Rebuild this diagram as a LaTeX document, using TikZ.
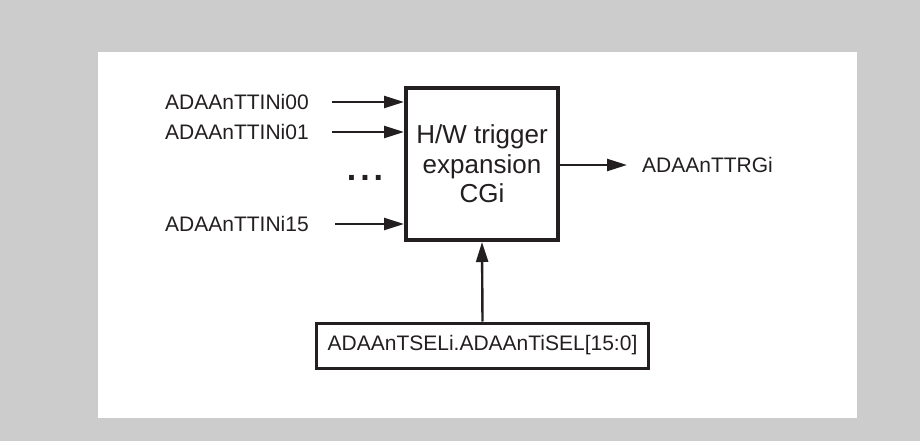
\documentclass[tikz,border=0pt]{standalone}
\usepackage{fontspec}
\setmainfont{Liberation Sans}
\usetikzlibrary{arrows.meta}
\definecolor{bggray}{RGB}{204,204,204}
\definecolor{ink}{RGB}{35,31,32}
\tikzset{
  sig/.style={draw=ink, line width=2.4pt, -{Triangle[length=20pt,width=12pt]}},
  lbl/.style={text=ink, inner sep=0pt, anchor=west, font=\fontsize{21}{25}\selectfont},
  mainbox/.style={draw=ink, line width=4pt, minimum width=152pt, minimum height=152pt, inner sep=0pt,
    align=center, text=ink, font=\fontsize{26}{29.5}\selectfont},
  selbox/.style={draw=ink, line width=3pt, minimum width=332pt, minimum height=45pt, inner sep=0pt,
    text=ink, font=\fontsize{21}{25}\selectfont},
}
\begin{document}
\begin{tikzpicture}[x=1pt,y=-1pt]
\useasboundingbox (0,0) rectangle (920,441);
\fill[bggray] (0,0) rectangle (920,441);
\fill[white] (98,52) rectangle (857,418);

\node[mainbox] (cg) at (482,164) {H/W trigger\\expansion\\CGi};
\node[selbox] (sel) at (482.5,345.5) {ADAAnTSELi.ADAAnTiSEL[15:0]};

\node[lbl] (l00) at (165,102) {ADAAnTTINi00};
\node[lbl] (l01) at (165,132) {ADAAnTTINi01};
\node[lbl] (l15) at (165,224) {ADAAnTTINi15};
\node[text=ink, inner sep=0pt, anchor=base, font=\fontsize{34}{36}\bfseries] (dots) at (365,180) {.\hspace{4pt}.\hspace{4pt}.};

\coordinate (s00) at (332,102);
\coordinate (s01) at (332,132);
\coordinate (s15) at (335,224);
\draw[sig] (s00) -- (s00 -| cg.west);
\draw[sig] (s01) -- (s01 -| cg.west);
\draw[sig] (s15) -- (s15 -| cg.west);

\coordinate (outend) at (627,165);
\draw[sig] (outend -| cg.east) -- (outend);
\node[lbl] (trg) at (642,165) {ADAAnTTRGi};

\draw[sig] (sel.north) -- (cg.south);
\end{tikzpicture}
\end{document}
